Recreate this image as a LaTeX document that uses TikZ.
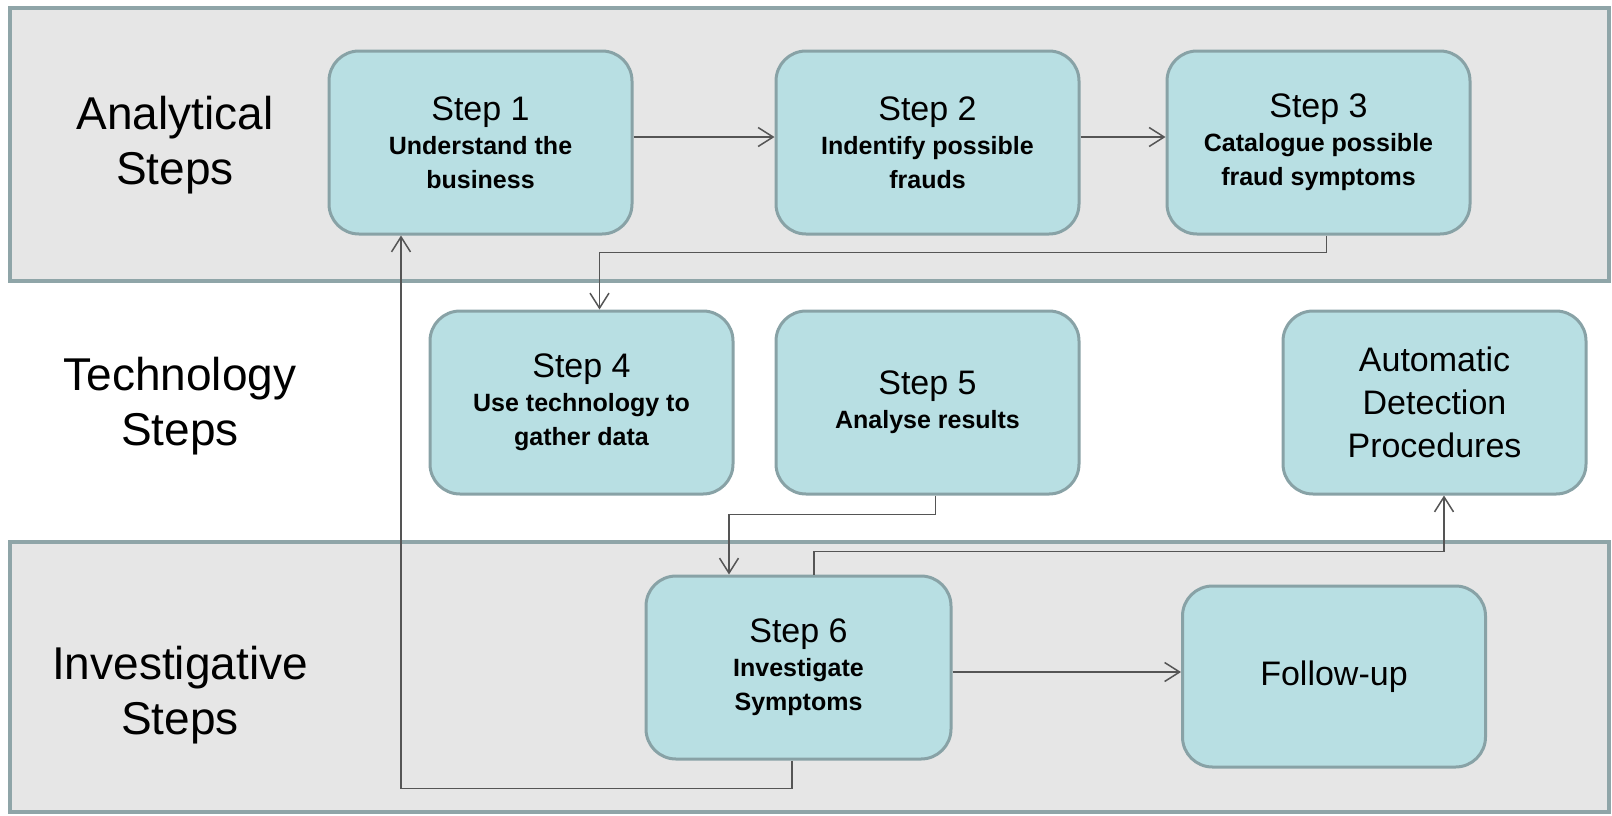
\documentclass[tikz,border=0pt]{standalone}
\usepackage{fontspec}
\setmainfont{Liberation Sans}
\usetikzlibrary{arrows.meta}
\definecolor{bandgray}{RGB}{230,230,230}
\definecolor{bandedge}{RGB}{143,165,168}
\definecolor{boxfill}{RGB}{184,223,227}
\definecolor{boxedge}{RGB}{136,162,166}
\definecolor{linegray}{RGB}{85,85,85}
\newcommand{\titlefont}{\mdseries\fontsize{34}{44}\selectfont}
\newcommand{\subfont}{\bfseries\fontsize{25}{34}\selectfont}
\newcommand{\lanefont}{\fontsize{46}{55}\selectfont}
\tikzset{
	band/.style={fill=bandgray, draw=bandedge, line width=4pt},
	stepbox/.style={rounded corners=30pt, fill=boxfill, draw=boxedge, line width=3pt, minimum width=303pt, minimum height=183pt, align=center, inner sep=0pt, font=\subfont},
	conn/.style={draw=linegray, line width=1.5pt},
	arr/.style={conn, -{Straight Barb[length=15pt, width=19pt]}},
	lanelabel/.style={font=\lanefont, align=center}
}

\begin{document}
\begin{tikzpicture}[x=1pt, y=-1pt]
	\useasboundingbox (0,0) rectangle (1612,815);
	\draw[band] (10,8) rectangle (1609,281);
	\draw[band] (10,542) rectangle (1609,812);
	\node[lanelabel] (analytical) at (175,145) {Analytical\\Steps};
	\node[lanelabel] (technology) at (180,406) {Technology\\Steps};
	\node[lanelabel] (investigative) at (180,695) {Investigative\\Steps};
	\node[stepbox] (s1) at (480.5,142.5) {{\titlefont Step 1}\\Understand the\\business};
	\node[stepbox] (s2) at (927.5,142.5) {{\titlefont Step 2}\\Indentify possible\\frauds};
	\node[stepbox] (s3) at (1318.5,142.5) {{\titlefont Step 3}\\Catalogue possible\\fraud symptoms};
	\node[stepbox] (s4) at (581.5,402.5) {{\titlefont Step 4}\\Use technology to\\gather data};
	\node[stepbox] (s5) at (927.5,402.5) {{\titlefont Step 5}\\Analyse results};
	\node[stepbox, font=\titlefont\fontsize{34}{43}\selectfont] (auto) at (1434.5,402.5) {Automatic\\Detection\\Procedures};
	\node[stepbox, minimum width=305pt] (s6) at (798.5,667.5) {{\titlefont Step 6}\\Investigate\\Symptoms};
	\node[stepbox, minimum height=181pt, font=\titlefont] (fu) at (1334,676.5) {Follow-up};
	\draw[arr] ([yshift=5.5pt]s1.east) -- ([yshift=5.5pt]s1.east -| s2.west);
	\draw[arr] ([yshift=5.5pt]s2.east) -- ([yshift=5.5pt]s2.east -| s3.west);
	\draw[arr] ([xshift=8pt]s3.south) -- ++(0,17) -| ([xshift=18pt]s4.north);
	\draw[arr] ([xshift=8pt]s5.south) -- ++(0,19) -| ([xshift=-69.5pt]s6.north);
	\draw[arr] ([xshift=15.5pt]s6.north) -- ++(0,-23) -| ([xshift=9.5pt]auto.south);
	\draw[arr] ([yshift=-4.5pt]s6.east) -- ([yshift=-4.5pt]s6.east -| fu.west);
	\draw[arr] ([xshift=-6.5pt]s6.south) -- ++(0,28) -| ([xshift=-79.5pt]s1.south);
\end{tikzpicture}
\end{document}
